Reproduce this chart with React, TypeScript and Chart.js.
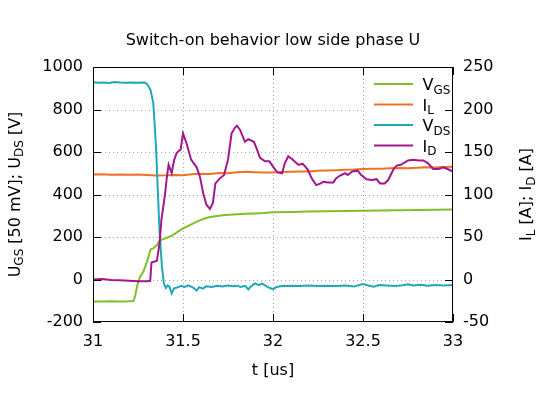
import React, { useEffect, useRef } from "react";
import { Chart, registerables } from "chart.js";

Chart.register(...registerables);

const FONT = "'DejaVu Sans', 'Liberation Sans', sans-serif";

const TITLE = "Switch-on behavior low side phase U";
const X_LABEL = "t [us]";
const X_MIN = 31;
const X_MAX = 33;
const X_STEP = 0.5;
const Y_MIN = -200;
const Y_MAX = 1000;
const Y_STEP = 200;
const Y2_MIN = -50;
const Y2_MAX = 250;
const Y2_STEP = 50;

// V_GS [50 mV] (left axis)
const VGS_T = [31.0, 31.05, 31.1, 31.15, 31.2, 31.225, 31.235, 31.245, 31.26, 31.28, 31.3, 31.32, 31.335, 31.355, 31.37, 31.39, 31.41, 31.44, 31.47, 31.5, 31.53, 31.56, 31.59, 31.62, 31.65, 31.68, 31.72, 31.76, 31.8, 31.85, 31.9, 31.95, 32.0, 32.1, 32.2, 32.3, 32.4, 32.5, 32.6, 32.7, 32.8, 32.9, 33.0];
const VGS_V = [-103, -103, -102, -103, -102, -101, -75, -30, 10, 37, 84, 142, 146, 162, 183, 190, 196, 207, 224, 240, 252, 265, 277, 287, 294, 298, 302, 305, 307, 309, 311, 313, 316, 318, 320, 321, 322, 324, 325, 326, 327, 328, 329];

// I_L [A] (right axis)
const IL_T = [31.0, 31.05, 31.1, 31.15, 31.2, 31.25, 31.3, 31.35, 31.4, 31.45, 31.5, 31.55, 31.6, 31.65, 31.7, 31.75, 31.8, 31.85, 31.9, 31.95, 32.0, 32.05, 32.1, 32.15, 32.2, 32.25, 32.3, 32.35, 32.4, 32.45, 32.5, 32.55, 32.6, 32.65, 32.7, 32.75, 32.8, 32.85, 32.9, 32.95, 33.0];
const IL_V = [123.5, 123.8, 123.3, 123.6, 123.2, 123.4, 122.8, 122.3, 122.5, 123.0, 122.6, 123.8, 124.5, 124.0, 125.2, 125.0, 126.3, 126.8, 126.2, 125.8, 126.0, 126.5, 126.8, 127.2, 127.0, 127.8, 128.2, 128.6, 129.0, 129.3, 130.0, 130.4, 130.2, 130.9, 131.3, 131.0, 131.6, 132.0, 131.8, 132.3, 132.6];

// V_DS [V] (left axis)
const VDS_T = [31.0, 31.03, 31.06, 31.09, 31.12, 31.15, 31.18, 31.21, 31.24, 31.27, 31.29, 31.305, 31.32, 31.335, 31.35, 31.36, 31.37, 31.383, 31.394, 31.405, 31.415, 31.425, 31.437, 31.45, 31.47, 31.49, 31.51, 31.53, 31.556, 31.575, 31.59, 31.61, 31.63, 31.66, 31.69, 31.72, 31.75, 31.78, 31.8, 31.82, 31.845, 31.863, 31.88, 31.9, 31.92, 31.94, 31.96, 31.975, 32.0, 32.02, 32.05, 32.1, 32.15, 32.2, 32.25, 32.3, 32.35, 32.4, 32.45, 32.5, 32.53, 32.56, 32.59, 32.63, 32.68, 32.72, 32.75, 32.78, 32.82, 32.86, 32.9, 32.95, 33.0];
const VDS_V = [928, 926, 927, 925, 929, 927, 926, 927, 926, 927, 926, 915, 890, 830, 625, 420, 220, 60, -20, -40, -28, -35, -66, -42, -37, -30, -35, -28, -38, -52, -36, -43, -32, -35, -30, -33, -28, -32, -29, -35, -30, -47, -30, -18, -27, -19, -30, -37, -46, -35, -31, -29, -31, -28, -30, -29, -31, -28, -33, -21, -28, -34, -26, -28, -30, -27, -22, -28, -25, -29, -26, -28, -26];

// I_D [A] (right axis)
const ID_T = [31.0, 31.05, 31.1, 31.15, 31.2, 31.25, 31.3, 31.318, 31.325, 31.355, 31.37, 31.38, 31.4, 31.41, 31.42, 31.437, 31.45, 31.465, 31.487, 31.5, 31.52, 31.545, 31.576, 31.594, 31.613, 31.63, 31.65, 31.666, 31.68, 31.705, 31.728, 31.75, 31.77, 31.79, 31.8, 31.817, 31.844, 31.863, 31.894, 31.913, 31.928, 31.956, 31.98, 32.006, 32.025, 32.05, 32.066, 32.085, 32.11, 32.14, 32.166, 32.194, 32.215, 32.24, 32.265, 32.28, 32.305, 32.335, 32.35, 32.37, 32.4, 32.415, 32.44, 32.47, 32.49, 32.52, 32.55, 32.576, 32.594, 32.62, 32.64, 32.67, 32.687, 32.71, 32.75, 32.78, 32.81, 32.835, 32.86, 32.89, 32.92, 32.946, 32.97, 33.0];
const ID_V = [0, 0.5, -0.5, -1, -1.5, -2, -2, -1.5, 20, 22, 43, 70, 100, 120, 135, 125, 140, 149, 153, 172, 160, 141, 132, 121, 101, 88, 83, 90, 113, 119, 123, 141, 172, 179, 181, 176, 162, 165, 162, 152, 143, 139, 139, 131, 126, 125, 137, 145, 141, 135, 136, 129, 119, 111, 113, 115, 114, 114, 119, 122, 125, 123, 127, 128, 123, 118, 117, 118, 113, 113, 117, 130, 134, 135, 140, 141, 140, 140, 137, 130, 130, 132, 130, 127];

const COLORS = {
  vgs: "#80bf28",
  il: "#ec7226",
  vds: "#20a8b8",
  id: "#a2168e",
};

type Part = { t: string; sub?: boolean };

const SERIES: { name: Part[]; color: string }[] = [
  { name: [{ t: "V" }, { t: "GS", sub: true }], color: COLORS.vgs },
  { name: [{ t: "I" }, { t: "L", sub: true }], color: COLORS.il },
  { name: [{ t: "V" }, { t: "DS", sub: true }], color: COLORS.vds },
  { name: [{ t: "I" }, { t: "D", sub: true }], color: COLORS.id },
];

const Y_LABEL: Part[] = [
  { t: "U" },
  { t: "GS", sub: true },
  { t: " [50 mV]; U" },
  { t: "DS", sub: true },
  { t: " [V]" },
];
const Y2_LABEL: Part[] = [
  { t: "I" },
  { t: "L", sub: true },
  { t: " [A]; I" },
  { t: "D", sub: true },
  { t: " [A]" },
];

const MAIN_SIZE = 16;
const SUB_SIZE = 12;
const SUB_DROP = 3.5;

function richWidth(ctx: CanvasRenderingContext2D, parts: Part[]) {
  let w = 0;
  for (const p of parts) {
    ctx.font = `${p.sub ? SUB_SIZE : MAIN_SIZE}px ${FONT}`;
    w += ctx.measureText(p.t).width;
  }
  return w;
}

function drawRich(
  ctx: CanvasRenderingContext2D,
  parts: Part[],
  x: number,
  baseline: number,
  align: "left" | "center"
) {
  ctx.textBaseline = "alphabetic";
  ctx.textAlign = "left";
  let cx = align === "center" ? x - richWidth(ctx, parts) / 2 : x;
  for (const p of parts) {
    ctx.font = `${p.sub ? SUB_SIZE : MAIN_SIZE}px ${FONT}`;
    ctx.fillText(p.t, cx, baseline + (p.sub ? SUB_DROP : 0));
    cx += ctx.measureText(p.t).width;
  }
}

const decorPlugin = {
  id: "decor",
  beforeDatasetsDraw(chart: any) {
    const { ctx, chartArea: a, scales } = chart;
    ctx.save();
    ctx.strokeStyle = "#a8a8a8";
    ctx.lineWidth = 1;
    ctx.setLineDash([1, 3]);
    for (const t of scales.x.ticks) {
      const px = Math.round(scales.x.getPixelForValue(t.value)) + 0.5;
      if (px <= a.left + 1 || px >= a.right - 1) continue;
      ctx.beginPath();
      ctx.moveTo(px, a.top);
      ctx.lineTo(px, a.bottom);
      ctx.stroke();
    }
    for (const t of scales.y.ticks) {
      const py = Math.round(scales.y.getPixelForValue(t.value)) + 0.5;
      if (py <= a.top + 1 || py >= a.bottom - 1) continue;
      ctx.beginPath();
      ctx.moveTo(a.left, py);
      ctx.lineTo(a.right, py);
      ctx.stroke();
    }
    ctx.setLineDash([]);
    // opaque key box
    ctx.fillStyle = "#ffffff";
    ctx.fillRect(a.right - 88, a.top + 1, 87, 90);
    ctx.restore();
  },
  afterDatasetsDraw(chart: any) {
    const { ctx, chartArea: a, scales } = chart;
    ctx.save();
    // frame
    ctx.strokeStyle = "#000";
    ctx.lineWidth = 1;
    ctx.strokeRect(a.left + 0.5, a.top + 0.5, a.right - a.left - 1, a.bottom - a.top - 1);
    // inward ticks
    const TL = 8;
    ctx.beginPath();
    for (const t of scales.x.ticks) {
      const px = Math.round(scales.x.getPixelForValue(t.value)) + 0.5;
      ctx.moveTo(px, a.bottom);
      ctx.lineTo(px, a.bottom - TL);
      ctx.moveTo(px, a.top);
      ctx.lineTo(px, a.top + TL);
    }
    for (const t of scales.y.ticks) {
      const py = Math.round(scales.y.getPixelForValue(t.value)) + 0.5;
      ctx.moveTo(a.left, py);
      ctx.lineTo(a.left + TL, py);
    }
    for (const t of scales.y2.ticks) {
      const py = Math.round(scales.y2.getPixelForValue(t.value)) + 0.5;
      ctx.moveTo(a.right, py);
      ctx.lineTo(a.right - TL, py);
    }
    ctx.stroke();

    // key
    ctx.fillStyle = "#000";
    SERIES.forEach((s, i) => {
      const base = a.top + 23 + i * 20.5;
      ctx.strokeStyle = s.color;
      ctx.lineWidth = 2;
      ctx.beginPath();
      ctx.moveTo(a.right - 79, base - 6);
      ctx.lineTo(a.right - 40, base - 6);
      ctx.stroke();
      drawRich(ctx, s.name, a.right - 30.5, base, "left");
    });

    // title
    const midX = (a.left + a.right) / 2;
    const midY = (a.top + a.bottom) / 2;
    ctx.fillStyle = "#000";
    drawRich(ctx, [{ t: TITLE }], midX, 44.5, "center");
    drawRich(ctx, [{ t: X_LABEL }], midX, 375, "center");

    ctx.save();
    ctx.translate(19.5, midY);
    ctx.rotate(-Math.PI / 2);
    drawRich(ctx, Y_LABEL, 0, 0, "center");
    ctx.restore();

    ctx.save();
    ctx.translate(531, midY);
    ctx.rotate(-Math.PI / 2);
    drawRich(ctx, Y2_LABEL, 0, 0, "center");
    ctx.restore();

    ctx.restore();
  },
};

function pts(t: number[], v: number[]) {
  return t.map((x, i) => ({ x, y: v[i] }));
}

export default function App() {
  const ref = useRef<HTMLCanvasElement | null>(null);
  useEffect(() => {
    if (!ref.current) return;
    const tickFont = { family: FONT, size: 16 };
    const chart = new Chart(ref.current, {
      type: "line",
      data: {
        datasets: [
          { label: "VGS", data: pts(VGS_T, VGS_V), borderColor: COLORS.vgs, yAxisID: "y", order: 4 },
          { label: "IL", data: pts(IL_T, IL_V), borderColor: COLORS.il, yAxisID: "y2", order: 3 },
          { label: "VDS", data: pts(VDS_T, VDS_V), borderColor: COLORS.vds, yAxisID: "y", order: 2 },
          { label: "ID", data: pts(ID_T, ID_V), borderColor: COLORS.id, yAxisID: "y2", order: 1 },
        ].map((d) => ({
          ...d,
          borderWidth: 2,
          pointRadius: 0,
          tension: 0,
          fill: false,
        })),
      },
      options: {
        animation: false,
        responsive: false,
        maintainAspectRatio: false,
        layout: { padding: { top: 67, left: 0, right: 0, bottom: 0 } },
        plugins: {
          legend: { display: false },
          title: { display: false },
          tooltip: { enabled: false },
        },
        scales: {
          x: {
            type: "linear",
            min: X_MIN,
            max: X_MAX,
            grid: { display: false, drawTicks: false },
            border: { display: false },
            ticks: {
              stepSize: X_STEP,
              font: tickFont,
              color: "#000",
              padding: 10,
              maxRotation: 0,
              callback: (v: any) => String(v),
            },
            afterFit: (s: any) => {
              s.height = 87;
            },
          },
          y: {
            type: "linear",
            position: "left",
            min: Y_MIN,
            max: Y_MAX,
            grid: { display: false, drawTicks: false },
            border: { display: false },
            ticks: {
              stepSize: Y_STEP,
              font: tickFont,
              color: "#000",
              padding: 10,
              callback: (v: any) => String(v),
            },
            afterFit: (s: any) => {
              s.width = 93;
            },
          },
          y2: {
            type: "linear",
            position: "right",
            min: Y2_MIN,
            max: Y2_MAX,
            grid: { display: false, drawTicks: false },
            border: { display: false },
            ticks: {
              stepSize: Y2_STEP,
              font: tickFont,
              color: "#000",
              padding: 10,
              callback: (v: any) => String(v),
            },
            afterFit: (s: any) => {
              s.width = 88;
            },
          },
        },
      },
      plugins: [decorPlugin],
    } as any);
    return () => chart.destroy();
  }, []);
  return (
    <div style={{ position: "fixed", left: 0, top: 0, width: 541, height: 409, background: "#fff" }}>
      <canvas ref={ref} width={541} height={409} style={{ display: "block", width: 541, height: 409 }} />
    </div>
  );
}
